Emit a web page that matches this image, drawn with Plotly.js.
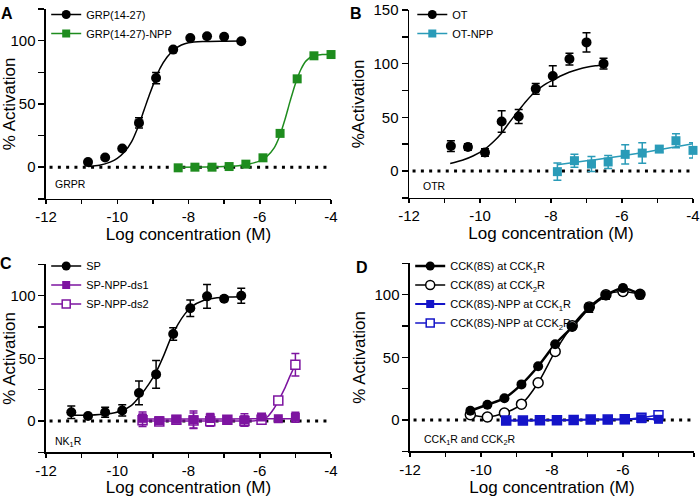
<!DOCTYPE html>
<html>
<head>
<meta charset="utf-8">
<script src="https://cdn.plot.ly/plotly-3.0.1.min.js"></script>
<style>html,body{margin:0;padding:0;background:#fff}#chart{width:700px;height:497px}</style>
</head>
<body>
<div id="chart"></div>
<script>
// ---------- Data ----------
// Panel A : GRPR
const grpX = [-10.82, -10.34, -9.86, -9.39, -8.91, -8.43, -7.95, -7.48, -7.0, -6.52];
const grpY = [4, 7.7, 14.8, 35, 70.4, 92.9, 102, 103.4, 103, 99.5];
const grpErr = [0, 0, 0, 4, 4.5, 0, 0, 0, 0, 0];
const grpFitX = [-10.82, -10.5, -10.2, -10.0, -9.8, -9.6, -9.4, -9.25, -9.1, -8.95, -8.8, -8.6, -8.4, -8.2, -8.0, -7.6, -7.0, -6.52];
const grpFitY = [0.5, 1.5, 4, 7, 12, 20, 33, 45, 57, 68, 78, 87, 93, 96.5, 98.3, 99.3, 99.6, 99.7];
const grpNppX = [-8.29, -7.82, -7.34, -6.86, -6.39, -5.91, -5.43, -4.95, -4.48, -4.0];
const grpNppY = [-0.5, 0, 0, 0.5, 2.4, 7.4, 26.7, 69.8, 88, 89];
const grpNppFitX = [-8.29, -7.5, -7.0, -6.6, -6.3, -6.0, -5.8, -5.6, -5.45, -5.3, -5.15, -5.0, -4.85, -4.7, -4.5, -4.25, -4.0];
const grpNppFitY = [0, 0.2, 0.5, 1.2, 2.5, 5, 8.5, 15, 24, 37, 52, 66, 77, 84, 88, 89, 89.3];

// Panel B : OTR
const otX = [-10.82, -10.34, -9.86, -9.39, -8.91, -8.43, -7.95, -7.48, -7.0, -6.52];
const otY = [23.2, 22.3, 17.3, 46.1, 50.8, 76.5, 88.5, 104.3, 119.8, 100];
const otErr = [5, 3, 3.5, 10, 6.5, 5, 9.5, 5.5, 9, 5];
const otFitX = [-10.84, -10.5, -10.2, -9.88, -9.6, -9.4, -9.2, -8.92, -8.7, -8.44, -8.2, -7.96, -7.7, -7.49, -7.2, -7.0, -6.75, -6.52];
const otFitY = [7, 10, 14, 20, 28, 35, 44, 56, 65, 74, 80, 84.5, 89, 92, 95, 96.6, 98, 99];
const otNppX = [-7.82, -7.34, -6.86, -6.39, -5.91, -5.43, -4.95, -4.48, -4.0];
const otNppY = [-0.6, 9.6, 6.5, 8.4, 15.5, 16.7, 20.4, 28.2, 19.2];
const otNppErr = [8, 6, 7, 6, 9, 9.5, 3, 6.5, 7];
const otNppFitX = [-7.82, -7.0, -6.0, -5.0, -4.0];
const otNppFitY = [5.8, 9.5, 14, 19.5, 25.5];

// Panel C : NK1R
const spX = [-11.29, -10.82, -10.34, -9.86, -9.39, -8.91, -8.43, -7.95, -7.48, -7.0, -6.52];
const spY = [6.9, 4, 6.9, 8.4, 22.4, 37.2, 69.4, 90, 99.5, 97.6, 100];
const spErr = [5, 1.5, 4, 4.5, 9.5, 11, 5, 6.5, 9.5, 2, 6];
const spFitX = [-11.29, -10.8, -10.3, -9.9, -9.6, -9.36, -9.1, -8.91, -8.7, -8.5, -8.3, -8.1, -7.9, -7.6, -7.2, -6.8, -6.52];
const spFitY = [4.5, 4.6, 5.5, 8, 12.5, 20, 30, 39, 52, 66, 77, 85.5, 91.5, 96, 98.3, 99, 99.2];
const dsX = [-9.29, -8.82, -8.34, -7.86, -7.39, -6.91, -6.43, -5.95, -5.48, -5.0];
const ds1Y = [2.1, 0.3, 1.3, 1, 2.4, 1, 0.8, 3.2, 1.8, 2.9];
const ds1Err = [5, 2, 2, 7, 3.5, 2, 5, 2, 1.5, 4];
const ds2Y = [0.5, -0.5, 1, 0.3, -0.3, 1, 0, 1, 16.4, 44.9];
const ds2Err = [5, 3, 2, 6, 4, 2, 4, 2, 3, 9];
const ds1FitX = [-9.29, -7.0, -5.0];
const ds1FitY = [1.5, 1.6, 1.8];
const ds2FitX = [-9.29, -6.5, -6.0, -5.8, -5.6, -5.48, -5.3, -5.15, -5.0];
const ds2FitY = [0, 0, 0.5, 3, 10, 16, 26, 36, 45];

// Panel D : CCK1R and CCK2R
const cckX = [-10.3, -9.82, -9.34, -8.86, -8.39, -7.91, -7.43, -6.95, -6.48, -6.0, -5.52];
const cck1Y = [7.4, 12.1, 17.4, 28.4, 42.9, 60.5, 74.2, 89.5, 99.5, 105.3, 100];
const cck1Err = [0, 0, 0, 0, 0, 0, 0, 3.5, 3, 2, 3];
const cck2Y = [4.2, 2.4, 5.5, 12.6, 29.7, 54.7, 75.3, 90.3, 100, 102.6, 100.3];
const cck2Err = [0, 0, 0, 0, 0, 0, 0, 0, 0, 3, 0];
const cckNppX = [-9.29, -8.82, -8.34, -7.86, -7.39, -6.91, -6.43, -5.95, -5.48, -5.0];
const npp1Y = [-0.5, -0.5, -0.3, -0.3, 0, 0.3, 0.3, 0.5, 1, 0.5];
const npp2Y = [-0.5, -0.5, -0.3, -0.3, 0, 0.3, 0.3, 0.5, 1.8, 3.7];

// reference line at zero
const zeroX = [-11.9, -4];
const zeroY = [0, 0];

// x tick labels
const xTicks = [-12, -10, -8, -6, -4];

// ---------- Styling ----------
const FONT = 'Liberation Sans, Arial, sans-serif';
const GREEN = '#1e8c1e', TEAL = '#2a9bb8', PURPLE = '#7d14a0', BLUE = '#1414c8', BLACK = '#000';

function markers(x, y, err, ax, color, symbol, open, size) {
  return {
    x: x, y: y, xaxis: 'x' + ax, yaxis: 'y' + ax, type: 'scatter', mode: 'markers',
    showlegend: false, cliponaxis: false,
    marker: {symbol: symbol, size: size || 10, color: open ? '#fff' : color, line: {color: color, width: open ? 1.5 : 0}},
    error_y: err ? {type: 'data', array: err, visible: true, thickness: 1.5, width: 4, color: color} : {visible: false}
  };
}
function curve(x, y, ax, color, width) {
  return {x: x, y: y, xaxis: 'x' + ax, yaxis: 'y' + ax, type: 'scatter', mode: 'lines',
    showlegend: false, cliponaxis: false, hoverinfo: 'skip',
    line: {color: color, width: width || 1.5, shape: 'spline', smoothing: 0.8}};
}
function legendItem(name, ax, legend, color, symbol, open, size, lw) {
  return {x: [null], y: [null], xaxis: 'x' + ax, yaxis: 'y' + ax, type: 'scatter', mode: 'lines+markers',
    name: name, legend: legend, showlegend: true,
    line: {color: color, width: lw || 1.5},
    marker: {symbol: symbol, size: size || 9, color: open ? '#fff' : color, line: {color: color, width: open ? 1.5 : 0}}};
}
function zero(ax) {
  return {x: zeroX, y: zeroY, xaxis: 'x' + ax, yaxis: 'y' + ax, type: 'scatter', mode: 'lines',
    showlegend: false, hoverinfo: 'skip', cliponaxis: false,
    line: {color: BLACK, width: 3, dash: '3px,5.3px'}};
}

const traces = [
  // A
  zero(''),
  curve(grpFitX, grpFitY, '', BLACK),
  curve(grpNppFitX, grpNppFitY, '', GREEN),
  markers(grpX, grpY, grpErr, '', BLACK, 'circle'),
  markers(grpNppX, grpNppY, null, '', GREEN, 'square', false, 9),
  legendItem('GRP(14-27)', '', 'legend', BLACK, 'circle'),
  legendItem('GRP(14-27)-NPP', '', 'legend', GREEN, 'square', false, 8),
  // B
  zero('2'),
  curve(otFitX, otFitY, '2', BLACK),
  curve(otNppFitX, otNppFitY, '2', TEAL),
  markers(otX, otY, otErr, '2', BLACK, 'circle'),
  markers(otNppX, otNppY, otNppErr, '2', TEAL, 'square', false, 9),
  legendItem('OT', '2', 'legend2', BLACK, 'circle'),
  legendItem('OT-NPP', '2', 'legend2', TEAL, 'square', false, 8),
  // C
  zero('3'),
  curve(spFitX, spFitY, '3', BLACK),
  curve(ds2FitX, ds2FitY, '3', PURPLE),
  curve(ds1FitX, ds1FitY, '3', PURPLE),
  markers(dsX, ds2Y, ds2Err, '3', PURPLE, 'square', true, 9),
  markers(dsX, ds1Y, ds1Err, '3', PURPLE, 'square', false, 9),
  markers(spX, spY, spErr, '3', BLACK, 'circle'),
  legendItem('SP', '3', 'legend3', BLACK, 'circle'),
  legendItem('SP-NPP-ds1', '3', 'legend3', PURPLE, 'square', false, 8),
  legendItem('SP-NPP-ds2', '3', 'legend3', PURPLE, 'square', true, 8),
  // D
  zero('4'),
  curve(cckX, cck2Y, '4', BLACK, 1.5),
  curve(cckX, cck1Y, '4', BLACK, 2.5),
  curve(cckNppX, npp2Y, '4', BLUE, 1.5),
  curve(cckNppX, npp1Y, '4', BLUE, 2),
  markers(cckX, cck2Y, cck2Err, '4', BLACK, 'circle', true),
  markers(cckX, cck1Y, cck1Err, '4', BLACK, 'circle'),
  markers(cckNppX, npp2Y, null, '4', BLUE, 'square', true, 9),
  markers(cckNppX, npp1Y, null, '4', BLUE, 'square', false, 9),
  legendItem('CCK(8S) at CCK<sub>1</sub>R', '4', 'legend4', BLACK, 'circle', false, 9, 2.5),
  legendItem('CCK(8S) at CCK<sub>2</sub>R', '4', 'legend4', BLACK, 'circle', true),
  legendItem('CCK(8S)-NPP at CCK<sub>1</sub>R', '4', 'legend4', BLUE, 'square', false, 8, 2),
  legendItem('CCK(8S)-NPP at CCK<sub>2</sub>R', '4', 'legend4', BLUE, 'square', true, 8)
];

function xAxis(domain, anchor) {
  return {domain: domain, anchor: anchor, range: [-12, -4], tickvals: xTicks, ticktext: xTicks.map(String),
    ticks: 'outside', ticklen: 4, tickwidth: 1.5, tickcolor: BLACK,
    minor: {dtick: 1, tick0: -12, ticks: 'outside', ticklen: 4, tickwidth: 1.5, tickcolor: BLACK, showgrid: false},
    showline: true, linewidth: 1.5, linecolor: BLACK, showgrid: false, zeroline: false,
    tickfont: {family: FONT, size: 15, color: BLACK},
    title: {text: 'Log concentration (M)', font: {family: FONT, size: 17, color: BLACK}, standoff: 3}};
}
function yAxis(domain, anchor, range, title) {
  return {domain: domain, anchor: anchor, range: range, dtick: 50, tick0: 0,
    ticks: 'outside', ticklen: 6, tickwidth: 1.5, tickcolor: BLACK,
    minor: {dtick: 25, tick0: 0, ticks: 'outside', ticklen: 6, tickwidth: 1.5, tickcolor: BLACK, showgrid: false},
    showline: true, linewidth: 1.5, linecolor: BLACK, showgrid: false, zeroline: false,
    tickfont: {family: FONT, size: 15, color: BLACK},
    title: {text: title, font: {family: FONT, size: 17, color: BLACK}, standoff: 4}};
}
function legendBox(x, y) {
  return {x: x, y: y, xanchor: 'left', yanchor: 'top', bgcolor: 'rgba(0,0,0,0)', borderwidth: 0,
    font: {family: FONT, size: 11, color: BLACK}, tracegroupgap: 0, itemwidth: 30};
}
function label(text, x) {
  return {text: '<b>' + text + '</b>', x: x, y: 1, xref: 'paper', yref: 'paper', showarrow: false,
    xanchor: 'center', yanchor: 'top', font: {family: FONT, size: 16, color: BLACK}};
}
function labelLow(text, x, y) {
  return {text: '<b>' + text + '</b>', x: x, y: y, xref: 'paper', yref: 'paper', showarrow: false,
    xanchor: 'center', yanchor: 'middle', font: {family: FONT, size: 16, color: BLACK}};
}
function note(text, ax, x, y) {
  return {text: text, x: x, y: y, xref: 'x' + ax, yref: 'y' + ax, showarrow: false,
    xanchor: 'left', yanchor: 'middle', font: {family: FONT, size: 10.5, color: BLACK}};
}

const layout = {
  width: 700, height: 497, margin: {l: 0, r: 0, t: 0, b: 0},
  paper_bgcolor: '#fff', plot_bgcolor: '#fff',
  font: {family: FONT, color: BLACK},
  xaxis: xAxis([0.0657, 0.4729], 'y'),
  yaxis: yAxis([0.6036, 0.9879], 'x', [-25, 125], '% Activation'),
  xaxis2: xAxis([0.5843, 0.99], 'y2'),
  yaxis2: yAxis([0.6056, 0.9859], 'x2', [-25, 150], '%Activation'),
  xaxis3: xAxis([0.0657, 0.4729], 'y3'),
  yaxis3: yAxis([0.0905, 0.4708], 'x3', [-25, 125], '% Activation'),
  xaxis4: xAxis([0.5857, 0.9914], 'y4'),
  yaxis4: yAxis([0.0926, 0.4728], 'x4', [-25, 125], '% Activation'),
  legend: legendBox(0.066, 1.006),
  legend2: legendBox(0.589, 1.006),
  legend3: legendBox(0.066, 0.497),
  legend4: legendBox(0.586, 0.497),
  showlegend: true,
  annotations: [
    label('A', 0.01), label('B', 0.5086),
    labelLow('C', 0.009, 0.4728), labelLow('D', 0.517, 0.465),
    note('GRPR', '', -11.8, -13),
    note('OTR', '2', -11.66, -14),
    note('NK<sub>1</sub>R', '3', -11.8, -17),
    note('CCK<sub>1</sub>R and CCK<sub>2</sub>R', '4', -11.66, -16)
  ]
};

Plotly.newPlot('chart', traces, layout, {displayModeBar: false, staticPlot: true});
</script>
</body>
</html>
